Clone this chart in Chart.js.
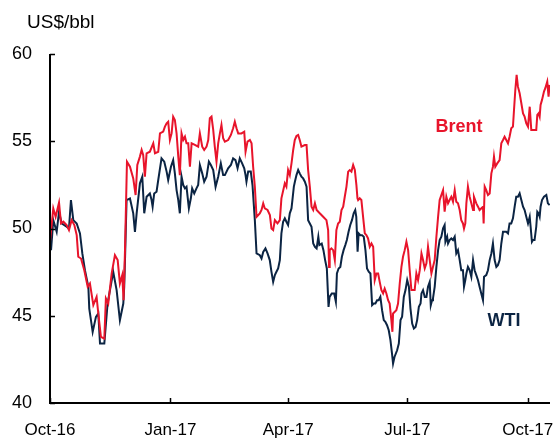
<!DOCTYPE html>
<html><head><meta charset="utf-8">
<script src="https://cdn.jsdelivr.net/npm/chart.js@4"></script>
<style>html,body{margin:0;padding:0;background:#fff}#wrap{width:555px;height:438px}</style>
</head><body><div id="wrap"><canvas id="c" width="555" height="438"></canvas></div>
<script>
// Day offsets counted from 1 Oct 2016
const xTickDays = [0, 92, 182, 273, 365];
const xTickLabels = ['Oct-16', 'Jan-17', 'Apr-17', 'Jul-17', 'Oct-17'];
const yTicks = [40, 45, 50, 55, 60];

const brentDays = [0,2.5,4.3,6.9,8.4,10.2,12.7,14.5,16.5,18.6,20.4,21.6,23.7,26.2,28.8,30.5,33.1,35.6,36.9,38.9,41.5,42.7,44.5,47.1,49.6,51.7,53.4,55.2,56.2,57.3,58.8,61.1,63.6,65.4,66.7,68.7,70,71.2,72.5,73.8,76.3,78.9,80.2,82.7,84,86.5,87.8,89.1,90.3,91.6,92.9,94.1,95.4,96.7,98,99.2,100.5,101.8,103.1,104.3,105.6,106.9,108.2,110.7,113.2,114.5,116.3,117.8,119.6,120.9,122.1,123.4,124.7,125.9,127.2,128.5,129.8,131,132.3,133.6,136.1,138.2,139.9,141.2,142.5,143.8,146.3,148.4,149.4,150.9,152.7,154,155.2,156.5,157.8,160.3,161.6,162.9,164.1,166.2,168,169.2,170.5,171.8,173.8,175.6,176.8,179.4,180.6,181.9,183.2,184.5,185.8,187,188.3,189.6,190.8,192.1,194.7,196,197.2,198.5,199.8,201.1,202.4,203.7,205,206.1,208.7,211.2,212.5,213.2,213.7,215,216.3,217.6,218.8,220.1,221.4,222.7,224,225.2,226.5,227.8,229,230.3,231.6,232.9,234.1,234.9,235.4,236.6,237.9,239.2,240.5,241.7,243,244.3,245.6,246.9,248.1,249.4,250.7,251.9,253.2,254.5,255.7,257,258.3,259.5,260.8,261.6,262.1,264.6,265.9,267.2,268.5,269.7,271,272.3,273.6,274.8,276.1,278.6,279.9,281.2,282.5,283.8,285,286.3,287.6,288.8,290.1,291.4,292.6,293.9,295.2,296.5,297.7,299,300.3,301.5,302.8,304.1,305.3,306.6,307.9,309.2,310.4,311.7,313,314.2,315.5,316.3,317.3,318.1,319.3,320.6,321.9,323.2,323.9,325.7,327,328.2,330.8,331.3,332.1,333.3,334.6,335.9,337.2,338.4,339.2,340.2,341.7,343.5,344.8,346.1,347.3,348.6,349.9,351.1,352.4,353.7,354.5,355.5,356.5,357.5,358.8,360.1,361.4,362.6,363.9,365.2,366.5,367.7,369,371.5,372.3,373.3,374.1,374.8,375.9,377.4,378.4,379.9,380.9,381.7];
const brentValues = [49.24,51.15,50.67,51.48,50.29,50.39,50.2,49.91,50.48,50.2,49.62,48.38,48.28,47.61,46.66,46.85,45.61,46.08,45.13,43.79,43.69,45.99,45.7,47.42,48.47,48.19,46.85,47.33,45.89,48.76,53.83,53.54,52.87,51.92,53.64,54.12,54.5,54.21,52.97,54.31,54.4,54.88,54.31,54.4,55.45,55.55,55.84,56.03,56.12,55.07,55.45,56.41,56.22,55.45,54.12,53.06,55.45,55.07,55.26,54.88,54.88,53.54,54.88,54.79,54.69,55.45,54.69,54.5,54.69,55.07,56.32,56.41,55.65,54.69,53.83,54.88,55.45,55.93,55.17,54.98,55.07,55.36,55.74,56.12,55.74,55.45,55.45,55.55,54.4,54.98,55.07,54.88,53.54,52.39,50.67,50.87,51.06,51.44,51.15,51.06,50.77,50.0,49.91,50.48,50.29,50.48,51.73,52.59,52.4,53.35,53.06,53.73,54.5,55.07,55.3,55.36,55.07,54.69,54.78,54.78,53.35,52.4,51.25,51.06,51.44,51.06,50.96,50.87,50.67,50.48,49.91,47.8,48.76,48.86,48.76,48.19,49.91,50.29,50.39,51.06,51.25,51.82,52.4,53.26,53.35,53.26,53.64,53.35,52.49,51.73,51.63,51.73,51.63,50.67,49.72,49.62,49.43,48.95,49.14,48.95,47.04,47.42,47.42,46.94,46.47,46.28,46.56,46.28,45.89,45.7,44.75,44.08,45.13,45.32,45.7,46.85,47.8,48.38,48.76,49.24,48.76,47.61,46.47,46.47,47.42,47.04,47.61,48.57,48.19,47.71,48.0,48.95,48.19,47.42,47.8,48.19,49.53,50.67,51.63,51.92,52.2,50.96,51.82,51.44,51.63,51.82,51.53,52.2,51.53,51.44,51.06,50.48,50.29,50.0,50.29,51.44,52.4,51.82,51.44,51.06,51.82,51.44,51.25,51.06,51.25,50.29,52.4,52.2,51.92,52.01,53.16,53.54,54.12,53.54,53.73,53.92,54.88,55.07,55.26,55.07,54.88,55.26,55.74,55.84,56.79,57.94,58.8,58.13,57.75,57.18,56.6,56.41,56.03,55.84,56.98,55.65,55.65,55.65,56.51,56.6,56.41,57.08,57.37,57.85,58.04,58.42,57.56,58.23];

const wtiDays = [0,0.8,2.5,5.1,6.9,8.9,12.7,14.5,16,17.8,20.4,22.9,24.7,26.7,29.3,30,32.6,35.1,36.9,38.2,41.5,44,48.3,50.9,53.4,56,56.7,57.3,58.5,61.1,63.6,64.9,66.2,68.7,70.5,72,73.8,76.3,77.6,78.4,79.6,81.4,82.7,85.2,87.3,89.1,90.3,92.4,94.1,95.4,96.7,98,99.2,100.5,101.8,103.1,104.3,106.1,107.6,108.6,110.2,111.9,113.2,114.5,116.3,117.8,119.6,121.4,122.9,124.7,126.5,128.5,130.5,132.3,133.6,136.1,138.2,139.9,141.7,143.3,145,146.8,148.4,149.4,150.1,151.4,153.4,154.7,156.5,157.8,160.3,161.6,162.9,164.6,166.2,167.9,169.2,170.5,171.8,173,174.3,175.6,176.8,178.1,179.4,180.6,181.9,183.2,184.5,185.2,186.3,187.1,188.3,189.6,190.8,192.1,193.4,194.7,196,197.2,198.5,199.8,201.1,202.4,203.7,205,205.8,207.6,208.9,210.2,211.5,212.8,213.6,215.3,217.1,218.4,219.2,220.5,221.8,223,224.3,225.6,226.8,228.1,229.4,230.7,232,233.2,234,235,235.8,237.1,238.4,239.7,241,242.2,243.5,244.8,246.1,247.3,248.6,249.9,251.1,252.4,253.7,255,256.2,257.5,258.8,260.1,261.3,262.1,263.2,265.2,266.5,267.8,269,270.3,271.6,272.9,274.2,275.4,276.7,278,279.3,280.5,281.8,283.1,283.8,285,286.3,287.6,288.8,290.1,290.9,291.9,292.6,293.9,295.2,296.5,297.7,299,300.3,301.5,302.1,303.4,304.1,305.3,306.6,307.9,309.2,310.4,311.7,313,314.2,315.5,316.3,317.3,318.1,319.3,320.6,321.9,323.2,324.4,325.7,327,328.2,329.5,330.8,331.6,333.3,334.6,335.9,337.2,338.4,339.7,341,342.2,343.5,344.8,346.1,348.6,349.9,351.1,352.4,353.7,355,356.2,357.5,358.8,360.1,361.4,362.6,363.9,365.2,366.5,367.2,368.2,369,370.2,371.5,372.3,373.3,374.1,374.8,375.9,377.4,379.2,380.4,381.7];
const wtiValues = [50.1,48.76,50.48,49.81,50.96,50.29,50.1,50.0,51.63,50.48,50.29,49.72,48.57,47.61,46.66,45.41,44.07,44.94,45.13,43.41,43.41,45.7,47.52,46.47,44.74,45.7,46.66,48.19,51.63,51.72,50.87,49.81,50.87,52.59,52.97,50.87,51.82,52.01,51.63,51.25,52.01,52.11,52.78,54.02,53.83,53.26,52.78,53.54,53.92,53.16,52.2,51.63,50.87,52.97,52.49,52.3,52.39,51.15,51.73,52.3,52.01,52.3,52.49,53.64,53.16,52.68,52.97,53.83,53.64,53.35,52.39,52.97,53.73,53.06,53.06,53.45,53.64,54.02,53.92,53.45,54.02,53.73,53.45,53.06,52.68,53.26,53.26,52.49,50.48,48.57,48.47,48.28,48.66,48.86,48.57,48.19,47.52,46.94,47.33,47.52,47.71,48.19,49.72,50.39,50.58,50.39,50.2,50.87,51.15,51.63,52.4,52.68,53.06,53.35,53.16,52.97,52.87,52.68,52.4,50.48,50.29,50.1,49.14,48.95,48.86,49.53,49.05,49.14,48.76,48.19,47.71,45.51,46.08,46.28,46.28,45.8,47.42,47.71,47.8,48.38,48.76,49.05,49.34,49.81,50.2,50.48,50.87,51.06,50.67,48.67,49.72,49.62,49.62,49.53,48.76,47.71,47.52,47.42,45.61,45.7,45.7,45.89,45.89,46.08,45.32,44.75,44.65,44.46,44.17,43.6,42.83,42.26,42.64,43.02,43.41,44.75,44.94,46.08,46.47,47.04,46.66,45.41,44.55,44.27,44.36,44.75,45.51,45.7,46.28,46.47,46.08,46.08,46.66,46.94,45.6,45.89,45.99,46.66,47.8,48.76,49.34,49.53,50.01,50.2,49.24,49.53,49.14,49.34,49.43,49.34,49.53,48.57,48.76,48.19,47.61,47.61,46.66,47.04,47.42,47.8,47.61,47.23,48.19,47.61,47.33,47.04,46.66,46.28,45.89,47.23,47.33,47.61,48.19,48.57,49.14,48.19,47.8,47.9,48.19,49.14,49.81,49.81,49.72,50.29,50.29,50.58,51.25,51.82,51.82,52.01,51.63,51.25,51.06,50.67,50.29,50.67,50.1,49.24,49.34,49.34,50.1,50.96,50.86,50.67,51.25,51.63,51.82,51.92,51.44,51.34];

const seriesNames = ['Brent', 'WTI'];
const RED = '#E8142B';
const NAVY = '#0B2443';
const FONT = "'Liberation Sans', Arial, sans-serif";

function toPoints(days, vals) { return days.map((d, i) => ({ x: d, y: vals[i] })); }

const axisPlugin = {
  id: 'axisPlugin',
  afterDatasetsDraw(chart) {
    const { ctx, chartArea: a, scales } = chart;
    ctx.save();
    ctx.strokeStyle = '#000';
    ctx.lineWidth = 2;
    ctx.beginPath();
    ctx.moveTo(a.left, a.top);
    ctx.lineTo(a.left, a.bottom);
    ctx.lineTo(a.right, a.bottom);
    ctx.stroke();
    ctx.lineWidth = 1.5;
    ctx.beginPath();
    xTickDays.forEach(d => {
      const x = Math.round(scales.x.getPixelForValue(d)) + 0.5;
      ctx.moveTo(x, a.bottom); ctx.lineTo(x, a.bottom - 5);
    });
    yTicks.forEach(v => {
      const y = Math.round(scales.y.getPixelForValue(v)) + 0.5;
      ctx.moveTo(a.left, y); ctx.lineTo(a.left + 5, y);
    });
    ctx.stroke();
    // unit label and series labels
    ctx.textBaseline = 'middle';
    ctx.textAlign = 'left';
    ctx.fillStyle = '#000';
    ctx.font = '19px ' + FONT;
    ctx.fillText('US$/bbl', 27, 23);
    ctx.textAlign = 'center';
    ctx.font = 'bold 18px ' + FONT;
    ctx.fillStyle = RED;
    ctx.fillText(seriesNames[0], 459, 127);
    ctx.fillStyle = NAVY;
    ctx.fillText(seriesNames[1], 504, 321);
    ctx.restore();
  }
};

new Chart(document.getElementById('c'), {
  type: 'line',
  data: {
    datasets: [
      { label: seriesNames[0], data: toPoints(brentDays, brentValues), borderColor: RED, borderWidth: 2, pointRadius: 0, fill: false, tension: 0, order: 0 },
      { label: seriesNames[1], data: toPoints(wtiDays, wtiValues), borderColor: NAVY, borderWidth: 2, pointRadius: 0, fill: false, tension: 0, order: 1 }
    ]
  },
  options: {
    responsive: false,
    animation: false,
    devicePixelRatio: 1,
    layout: { padding: { top: 54, right: 5, left: 0, bottom: 0 } },
    plugins: { legend: { display: false }, tooltip: { enabled: false } },
    scales: {
      x: {
        type: 'linear', min: 0, max: 382,
        grid: { display: false }, border: { display: false },
        afterBuildTicks(s) { s.ticks = xTickDays.map(v => ({ value: v })); },
        afterFit(s) { s.height = 35; s.paddingLeft = 0; s.paddingRight = 0; },
        ticks: {
          autoSkip: false, maxRotation: 0, padding: 9, color: '#000',
          font: { family: FONT, size: 17 },
          callback: (v) => xTickLabels[xTickDays.indexOf(v)]
        }
      },
      y: {
        type: 'linear', min: 40, max: 60,
        grid: { display: false }, border: { display: false },
        afterBuildTicks(s) { s.ticks = yTicks.map(v => ({ value: v })); },
        afterFit(s) { s.width = 50; s.paddingTop = 0; s.paddingBottom = 0; },
        ticks: { padding: 10, color: '#000', font: { family: FONT, size: 18 } }
      }
    }
  },
  plugins: [axisPlugin]
});
</script></body></html>
